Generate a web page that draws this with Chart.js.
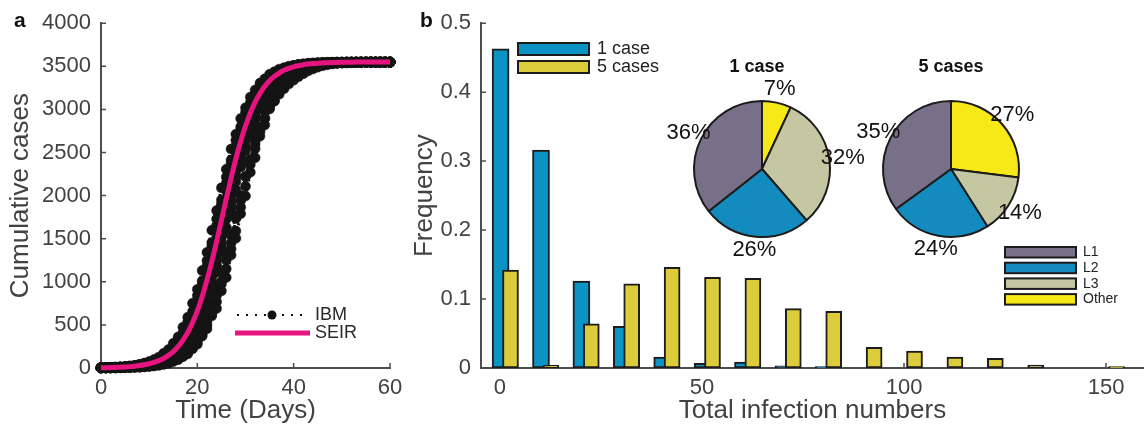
<!DOCTYPE html>
<html>
<head>
<meta charset="utf-8">
<script src="https://cdn.jsdelivr.net/npm/chart.js@4.4.1/dist/chart.umd.min.js"></script>
<style>
  html, body { margin: 0; padding: 0; background: #fff; }
  #wrap { position: relative; width: 1144px; height: 424px; overflow: hidden; }
  #wrap canvas { position: absolute; }
</style>
</head>
<body>
<div id="wrap">
  <canvas id="epi" width="410" height="424" style="left:0;top:0"></canvas>
  <canvas id="sizes" width="734" height="424" style="left:410px;top:0"></canvas>
  <canvas id="pieOne" width="240" height="240" style="left:642px;top:49px"></canvas>
  <canvas id="pieFive" width="240" height="240" style="left:831px;top:49px"></canvas>
</div>
<script>
// ---- Panel a: cumulative cases over time ----
const days = [0,1,2,3,4,5,6,7,8,9,10,11,12,13,14,15,16,17,18,19,20,21,22,23,24,25,26,27,28,29,30,
  31,32,33,34,35,36,37,38,39,40,41,42,43,44,45,46,47,48,49,50,51,52,53,54,55,56,57,58,59,60];

const seir = [3,4,5,7,9,12,16,21,28,37,49,64,85,111,146,190,248,321,412,526,664,828,1020,1233,1468,1713,
  1960,2201,2427,2630,2807,2958,3084,3186,3268,3333,3383,3422,3453,3476,3494,3507,3518,3526,3532,3536,
  3539,3542,3544,3545,3546,3547,3548,3549,3549,3550,3550,3550,3550,3550,3550];

// individual-based model realisations
const ibmRun1 = [5,6,8,10,14,18,24,31,43,57,75,99,126,170,214,286,360,472,588,750,912,1130,1341,1598,1826,
  2090,2305,2540,2712,2893,3018,3142,3225,3305,3356,3407,3436,3467,3484,3502,3511,3523,3528,3535,3537,
  3541,3542,3546,3545,3548,3547,3549,3550,3549,3551,3550,3551,3550,3551,3551,3551];
const ibmRun2 = [4,5,7,9,12,16,22,27,38,48,66,83,114,143,194,244,326,405,533,655,840,1008,1247,1455,1728,
  1948,2215,2412,2641,2798,2966,3077,3191,3262,3337,3380,3425,3450,3478,3492,3508,3516,3527,3531,3537,
  3538,3543,3543,3546,3545,3548,3547,3549,3548,3549,3549,3549,3549,3549,3549,3549];
const ibmRun3 = [3,4,6,8,10,14,18,25,32,43,55,75,96,130,165,220,279,368,461,598,736,928,1115,1358,1580,
  1845,2074,2323,2524,2728,2880,3029,3133,3233,3298,3363,3401,3441,3463,3487,3500,3514,3521,3530,3533,
  3538,3539,3544,3544,3547,3546,3548,3547,3548,3548,3548,3548,3548,3548,3548,3548];
const ibmRun4 = [3,4,5,7,9,12,16,21,29,36,50,63,87,109,149,187,252,316,418,519,671,819,1031,1222,1480,
  1701,1972,2190,2438,2621,2815,2950,3090,3180,3272,3329,3386,3419,3455,3474,3496,3505,3520,3524,3534,
  3535,3541,3541,3546,3545,3548,3547,3550,3549,3551,3550,3552,3551,3552,3552,3552];
const ibmRun5 = [2,3,4,6,8,10,14,18,24,33,41,57,73,99,126,170,214,287,359,473,584,752,908,1136,1335,
  1602,1824,2095,2303,2542,2712,2895,3016,3145,3222,3307,3355,3408,3435,3468,3483,3503,3511,3524,3527,
  3535,3536,3541,3542,3546,3545,3548,3547,3549,3548,3549,3549,3549,3549,3549,3549];
const ibmRun6 = [2,3,4,5,7,9,12,16,21,28,38,48,65,84,113,144,193,245,327,406,533,655,838,1008,1246,
  1455,1727,1945,2214,2411,2642,2797,2967,3076,3192,3261,3338,3379,3426,3449,3479,3491,3509,3515,3528,
  3530,3537,3537,3543,3542,3546,3545,3547,3547,3548,3548,3549,3549,3549,3549,3549];
const ibmRun7 = [1,2,3,4,6,8,10,14,18,24,32,43,55,75,95,131,164,221,277,369,459,600,733,930,1110,
  1361,1575,1850,2068,2330,2519,2735,2874,3035,3127,3238,3293,3369,3398,3446,3460,3492,3497,3517,3519,
  3532,3531,3540,3538,3545,3543,3547,3546,3548,3548,3549,3549,3549,3549,3549,3549];
const ibmRun8 = [1,1,2,3,4,5,7,9,12,16,22,27,38,48,66,83,115,142,196,242,329,403,537,652,845,
  1004,1252,1450,1735,1941,2222,2405,2650,2792,2975,3071,3199,3256,3344,3375,3430,3446,3482,3490,3511,
  3513,3528,3529,3538,3537,3543,3542,3546,3545,3547,3547,3548,3548,3548,3548,3548];
const ibmRun9 = [1,1,1,2,3,4,6,8,10,14,18,25,31,43,54,76,95,131,163,222,276,370,455,605,690,
  895,1050,1310,1505,1790,1995,2270,2440,2690,2820,3020,3095,3240,3280,3375,3398,3452,3462,3496,3500,
  3520,3521,3533,3533,3541,3540,3545,3544,3547,3546,3548,3548,3548,3548,3548,3548];
const ibmRun10 = [4,5,6,8,11,15,19,26,34,45,60,80,104,138,182,236,305,392,500,628,782,968,1180,1410,1650,
  1900,2140,2370,2575,2760,2920,3050,3160,3248,3318,3372,3413,3446,3470,3490,3504,3516,3524,3532,3536,
  3540,3542,3545,3546,3548,3548,3549,3549,3550,3550,3550,3550,3550,3550,3550,3550];
const ibmRun11 = [2,3,4,5,7,9,13,17,22,30,40,52,69,92,120,157,205,266,342,438,556,700,870,1064,1280,
  1515,1760,2005,2240,2455,2650,2820,2960,3075,3170,3244,3302,3348,3385,3415,3440,3460,3478,3492,3503,
  3512,3520,3526,3531,3535,3538,3540,3542,3543,3544,3545,3545,3545,3545,3545,3545];
const ibmRun12 = [1,2,2,3,5,6,9,12,15,20,27,35,47,62,82,108,141,184,238,306,390,494,615,760,925,
  1110,1315,1540,1770,2000,2220,2420,2600,2760,2895,3005,3100,3175,3240,3295,3340,3380,3415,3445,3470,
  3490,3506,3518,3528,3535,3540,3543,3545,3546,3547,3548,3548,3548,3548,3548,3548];
const ibmRun13 = [1,2,3,4,6,8,11,15,20,26,35,45,60,80,104,138,178,233,302,388,496,628,786,969,1195,
  1408,1630,1898,2160,2370,2565,2766,2920,3055,3160,3250,3315,3374,3412,3447,3470,3490,3505,3516,3524,
  3531,3534,3538,3541,3543,3544,3546,3547,3547,3548,3548,3548,3548,3548,3548,3548];
const ibmRun14 = [1,1,1,2,3,4,6,8,11,15,20,26,34,45,60,80,105,136,180,232,302,386,496,628,768,
  975,1150,1380,1590,1865,2108,2360,2545,2741,2898,3045,3147,3248,3312,3375,3414,3449,3472,3493,3505,
  3516,3524,3531,3535,3539,3541,3543,3545,3546,3546,3547,3547,3547,3547,3547,3547];
const ibmRuns = [ibmRun1, ibmRun2, ibmRun3, ibmRun4, ibmRun5, ibmRun6, ibmRun7, ibmRun8, ibmRun9,
  ibmRun10, ibmRun11, ibmRun12, ibmRun13, ibmRun14];

const dayTicks = [0, 20, 40, 60];
const caseTicks = [0, 500, 1000, 1500, 2000, 2500, 3000, 3500, 4000];

// ---- Panel b: outbreak size distribution and lineage shares ----
const bins = [0,10,20,30,40,50,60,70,80,90,100,110,120,130,140,150];
const freqOneCase   = [0.463,0.316,0.126,0.0605,0.016,0.0068,0.0086,0.003,0.002,0,0,0,0,0,0,0];
const freqFiveCases = [0.142,0.004,0.064,0.122,0.146,0.1316,0.130,0.086,0.082,0.030,0.0245,0.016,0.014,0.0043,0,0.002];
const freqTicks = [0, 0.1, 0.2, 0.3, 0.4, 0.5];
const sizeTicks = [0, 50, 100, 150];

const lineages = ['L1', 'L2', 'L3', 'Other'];
const shareOneCase   = [36, 26, 32, 7];
const shareFiveCases = [35, 24, 14, 27];

// ---- styling ----
const FONT = '"Liberation Sans", Arial, Helvetica, sans-serif';
const TXT = '#424242';
const AXIS = '#4d4d4d';
const EDGE = '#1c1c1c';
const PINK = '#e6147f';
const BLUE = '#0a93c3';
const YELLOW = '#dccb3a';
const lineageColors = ['#787089', '#138bbf', '#c5c7a2', '#f7e817'];
const ONE_SHIFT = 0.15, FIVE_SHIFT = 2.6;

// tick marks pointing into the plot area
const inwardTicks = {
  id: 'inwardTicks',
  beforeDatasetsDraw(chart) {
    const {ctx, chartArea: a, scales: {x, y}} = chart;
    ctx.save();
    ctx.strokeStyle = AXIS;
    ctx.lineWidth = 1.5;
    ctx.beginPath();
    x.ticks.forEach(t => { const p = x.getPixelForValue(t.value); ctx.moveTo(p, a.bottom); ctx.lineTo(p, a.bottom - 5); });
    y.ticks.forEach(t => { const p = y.getPixelForValue(t.value); ctx.moveTo(a.left, p); ctx.lineTo(a.left + 5, p); });
    ctx.stroke();
    ctx.restore();
  }
};

function panelLetter(letter, x, y) {
  return {
    id: 'letter_' + letter,
    afterDraw(chart) {
      const ctx = chart.ctx;
      ctx.save();
      ctx.font = 'bold 21px ' + FONT;
      ctx.fillStyle = '#111';
      ctx.textBaseline = 'alphabetic';
      ctx.fillText(letter, x, y);
      ctx.restore();
    }
  };
}

function axisCommon(ticks, tickPad, fmt) {
  return {
    afterBuildTicks: s => { s.ticks = ticks.map(v => ({value: v})); },
    grid: {display: false, drawTicks: false},
    border: {display: true, color: AXIS, width: 2},
    ticks: {color: TXT, font: {family: FONT, size: 22}, padding: tickPad, maxRotation: 0, autoSkip: false,
            callback: v => fmt(v)}
  };
}
function axisTitle(text, pad) {
  return {display: true, text, color: TXT, font: {family: FONT, size: 26, lineHeight: 0.85}, padding: pad};
}

// ---- Panel a chart ----
const epiLegend = {
  id: 'epiLegend',
  afterDraw(chart) {
    const ctx = chart.ctx;
    ctx.save();
    // IBM: dotted line with a marker
    ctx.strokeStyle = '#111';
    ctx.lineWidth = 2;
    ctx.setLineDash([2, 7]);
    ctx.beginPath(); ctx.moveTo(237, 315); ctx.lineTo(306, 315); ctx.stroke();
    ctx.setLineDash([]);
    ctx.fillStyle = '#111';
    ctx.beginPath(); ctx.arc(272, 315, 4.5, 0, Math.PI * 2); ctx.fill();
    // SEIR: solid line
    ctx.strokeStyle = PINK;
    ctx.lineWidth = 5;
    ctx.beginPath(); ctx.moveTo(235, 333); ctx.lineTo(310, 333); ctx.stroke();
    ctx.fillStyle = '#2a2a2a';
    ctx.font = '18px ' + FONT;
    ctx.textBaseline = 'middle';
    ctx.fillText('IBM', 315, 315);
    ctx.fillText('SEIR', 315, 333);
    ctx.restore();
  }
};

const ibmDatasets = ibmRuns.map((run, k) => ({
  label: 'IBM ' + (k + 1),
  data: days.map((d, i) => ({x: d, y: run[i]})),
  borderColor: '#141414',
  borderWidth: 3,
  borderDash: [2, 3],
  pointRadius: 5,
  pointBorderWidth: 0.5,
  pointBackgroundColor: '#141414',
  pointBorderColor: '#141414',
  tension: 0,
  clip: false,
  order: 2
}));

new Chart(document.getElementById('epi'), {
  type: 'line',
  data: {
    datasets: [
      {label: 'SEIR', data: days.map((d, i) => ({x: d, y: seir[i]})), borderColor: PINK, borderWidth: 5,
       pointRadius: 0, cubicInterpolationMode: 'monotone', order: 1, clip: false},
      ...ibmDatasets
    ]
  },
  options: {
    responsive: false, animation: false, devicePixelRatio: 1,
    layout: {padding: {top: 21, right: 20, left: 0, bottom: 0}},
    plugins: {legend: {display: false}, tooltip: {enabled: false}},
    scales: {
      x: Object.assign(axisCommon(dayTicks, 7, v => String(v)), {
        type: 'linear', min: 0, max: 60,
        afterFit: s => { s.height = 56; },
        title: axisTitle('Time (Days)', {top: 0, bottom: 2})
      }),
      y: Object.assign(axisCommon(caseTicks, 10, v => String(v)), {
        type: 'linear', min: 0, max: 4000,
        afterFit: s => { s.width = 101; },
        title: axisTitle('Cumulative cases', {top: 10, bottom: 0})
      })
    }
  },
  plugins: [inwardTicks, epiLegend, panelLetter('a', 14, 27)]
});

// ---- Panel b chart ----
const sizesLegend = {
  id: 'sizesLegend',
  afterDraw(chart) {
    const ctx = chart.ctx;
    ctx.save();
    ctx.lineWidth = 2;
    ctx.strokeStyle = EDGE;
    // bar series legend
    [[BLUE, '1 case', 43], [YELLOW, '5 cases', 61]].forEach(([c, t, y]) => {
      ctx.fillStyle = c; ctx.fillRect(108, y, 71, 12); ctx.strokeRect(108, y, 71, 12);
      ctx.fillStyle = '#222'; ctx.font = '18px ' + FONT; ctx.textBaseline = 'middle';
      ctx.fillText(t, 187, y + 6.5);
    });
    // lineage legend for the pies
    lineages.forEach((name, i) => {
      const y = 247 + i * 15.7;
      ctx.fillStyle = lineageColors[i]; ctx.fillRect(595, y, 71, 10.5); ctx.strokeRect(595, y, 71, 10.5);
      ctx.fillStyle = '#222'; ctx.font = '14px ' + FONT; ctx.textBaseline = 'middle';
      ctx.fillText(name, 673, y + 5.5);
    });
    ctx.restore();
  }
};

new Chart(document.getElementById('sizes'), {
  type: 'bar',
  data: {
    datasets: [
      {label: '1 case', data: bins.map((b, i) => ({x: b + ONE_SHIFT, y: freqOneCase[i]})),
       backgroundColor: BLUE, barThickness: 17, order: 2},
      {label: '5 cases', data: bins.map((b, i) => ({x: b + FIVE_SHIFT, y: freqFiveCases[i]})),
       backgroundColor: YELLOW, barThickness: 16, order: 1}
    ]
  },
  options: {
    responsive: false, animation: false, devicePixelRatio: 1,
    layout: {padding: {top: 21, right: 0, left: 0, bottom: 0}},
    datasets: {bar: {grouped: false, borderColor: EDGE, borderWidth: 2, borderSkipped: false}},
    plugins: {legend: {display: false}, tooltip: {enabled: false}},
    scales: {
      x: Object.assign(axisCommon(sizeTicks, 7, v => String(v)), {
        type: 'linear', min: -4.7, max: 159.4, offset: false,
        afterFit: s => { s.height = 56; },
        title: axisTitle('Total infection numbers', {top: 0, bottom: 2})
      }),
      y: Object.assign(axisCommon(freqTicks, 10, v => String(v)), {
        type: 'linear', min: 0, max: 0.5,
        afterFit: s => { s.width = 71; },
        title: axisTitle('Frequency', {top: 4, bottom: 0})
      })
    }
  },
  plugins: [inwardTicks, sizesLegend, panelLetter('b', 10, 27)]
});

// ---- Pies: lineage shares ----
const clockwise = [3, 2, 1, 0]; // Other, L3, L2, L1 going clockwise from the top

function pieText(title, titleDx) {
  return {
    id: 'pieText',
    afterDatasetsDraw(chart) {
      const ctx = chart.ctx;
      const ds = chart.data.datasets[0];
      const arcs = chart.getDatasetMeta(0).data;
      ctx.save();
      ctx.fillStyle = '#111';
      ctx.textAlign = 'center';
      ctx.textBaseline = 'middle';
      ctx.font = '22px ' + FONT;
      let cx = 0, cy = 0;
      arcs.forEach((arc, i) => {
        const p = arc.getProps(['x', 'y', 'startAngle', 'endAngle', 'outerRadius'], true);
        const mid = (p.startAngle + p.endAngle) / 2;
        const r = p.outerRadius * 1.2;
        ctx.fillText(ds.data[i] + '%', p.x + Math.cos(mid) * r, p.y + Math.sin(mid) * r);
        cx = p.x; cy = p.y;
      });
      ctx.font = 'bold 18px ' + FONT;
      ctx.fillText(title, cx + titleDx, cy - 102);
      ctx.restore();
    }
  };
}

function lineagePie(id, title, shares, titleDx) {
  return new Chart(document.getElementById(id), {
    type: 'pie',
    data: {
      labels: clockwise.map(i => lineages[i]),
      datasets: [{
        data: clockwise.map(i => shares[i]),
        backgroundColor: clockwise.map(i => lineageColors[i]),
        borderColor: EDGE, borderWidth: 2, radius: 68
      }]
    },
    options: {
      responsive: false, animation: false, devicePixelRatio: 1,
      layout: {padding: 0},
      plugins: {legend: {display: false}, tooltip: {enabled: false}}
    },
    plugins: [pieText(title, titleDx)]
  });
}

lineagePie('pieOne', '1 case', shareOneCase, -5);
lineagePie('pieFive', '5 cases', shareFiveCases, 0);
</script>
</body>
</html>
